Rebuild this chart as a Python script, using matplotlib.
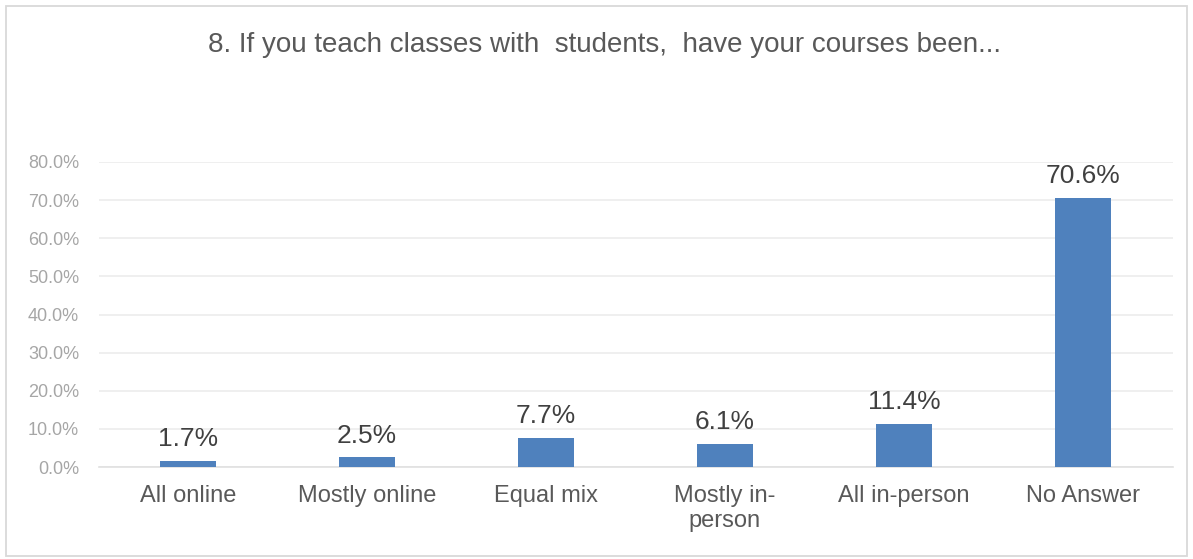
import matplotlib
matplotlib.use("Agg")
import matplotlib.pyplot as plt
from matplotlib.patches import Rectangle
from matplotlib.ticker import FuncFormatter, MultipleLocator

categories = ["All online", "Mostly online", "Equal mix", "Mostly in-\nperson", "All in-person", "No Answer"]
values = [1.7, 2.5, 7.7, 6.1, 11.4, 70.6]
title = "8. If you teach classes with  students,  have your courses been..."

plt.rcParams['font.family'] = ['Liberation Sans', 'DejaVu Sans']

fig = plt.figure(figsize=(11.93, 5.59), dpi=100)
fig.patch.set_facecolor('white')
fig.add_artist(Rectangle((6.5/1193, 3/559), (1187-6.5)/1193, (553-3)/559,
                         transform=fig.transFigure, fill=False, edgecolor='#d9d9d9', linewidth=1.3))

ax = fig.add_axes([98.5/1193, 1 - 467/559, (1172.5 - 98.5)/1193, (467 - 162)/559])
x = list(range(len(categories)))
bars = ax.bar(x, values, width=0.31, color='#4F81BD', zorder=3)
ax.set_xlim(-0.5, len(categories) - 0.5)
ax.set_ylim(0, 80)
ax.yaxis.set_major_locator(MultipleLocator(10))
ax.yaxis.set_major_formatter(FuncFormatter(lambda v, p: f"{v:.1f}%"))
ax.grid(axis='y', color='#ececec', linewidth=1.2, zorder=0)
for s in ['top', 'right', 'left']:
    ax.spines[s].set_visible(False)
ax.spines['bottom'].set_color('#e0e0e0')
ax.spines['bottom'].set_linewidth(1.2)
ax.tick_params(axis='y', length=0, labelsize=13, labelcolor='#a6a6a6', pad=14)
ax.tick_params(axis='x', length=0, labelsize=17, labelcolor='#595959', pad=13)
ax.set_xticks(x)
ax.set_xticklabels(categories, linespacing=1.15)

for xi, v in zip(x, values):
    ax.annotate(f"{v:.1f}%", (xi, v), xytext=(0, 7), textcoords='offset points',
                ha='center', va='bottom', fontsize=19, color='#404040')

fig.text(604/1193, 1 - 45/559, title, ha='center', va='center', fontsize=20, color='#595959')

fig.savefig('out.png', dpi=100, facecolor='white')
